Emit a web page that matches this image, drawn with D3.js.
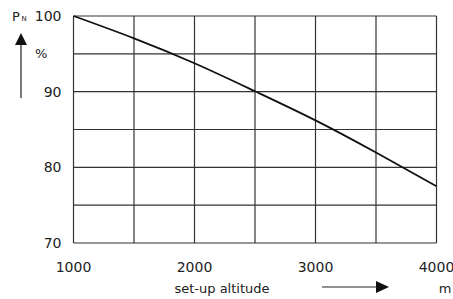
<!DOCTYPE html>
<html>
<head>
<meta charset="utf-8">
<script src="https://cdn.jsdelivr.net/npm/d3@7"></script>
<style>
  body { margin: 0; background: #fff; }
  svg text { font-family: "DejaVu Sans", sans-serif; fill: #222; }
</style>
</head>
<body>
<div id="graph"></div>
<script>
// ------DATA------
const altitudes = [1000, 1500, 2000, 2500, 3000, 3500, 4000]   // m
const power = [100, 97.05, 93.75, 90.05, 86.2, 81.95, 77.5]      // P_N in %
const xTicks = [1000, 2000, 3000, 4000]
const xGrid = [1000, 1500, 2000, 2500, 3000, 3500, 4000]
const yTicks = [70, 80, 90, 100]
const yGrid = [70, 75, 80, 85, 90, 95, 100]

// ------SETUP------
const width = 453, height = 299
const margin = { top: 16, right: 16.5, bottom: 56, left: 73.5 }
const gWidth = width - margin.left - margin.right
const gHeight = height - margin.top - margin.bottom

const svg = d3.select('#graph').append('svg')
  .attr('width', width).attr('height', height)

const graph = svg.append('g').attr('transform', `translate(${margin.left}, ${margin.top})`)

const xScale = d3.scaleLinear().domain([1000, 4000]).range([0, gWidth])
const yScale = d3.scaleLinear().domain([70, 100]).range([gHeight, 0])

// grid lines
graph.selectAll('.vgrid').data(xGrid).enter().append('line')
  .attr('x1', d => xScale(d)).attr('x2', d => xScale(d))
  .attr('y1', 0).attr('y2', gHeight)
  .attr('stroke', '#333').attr('stroke-width', 1.2)
graph.selectAll('.hgrid').data(yGrid).enter().append('line')
  .attr('y1', d => yScale(d)).attr('y2', d => yScale(d))
  .attr('x1', 0).attr('x2', gWidth)
  .attr('stroke', '#333').attr('stroke-width', 1.2)

// tick labels
graph.selectAll('.ylab').data(yTicks).enter().append('text')
  .attr('x', -12).attr('y', d => yScale(d)).attr('dy', '0.36em')
  .attr('text-anchor', 'end').style('font-size', '14px')
  .text(d => d)
graph.selectAll('.xlab').data(xTicks).enter().append('text')
  .attr('x', d => xScale(d)).attr('y', gHeight + 29)
  .attr('text-anchor', 'middle').style('font-size', '14px')
  .text(d => d)

// the curve (smooth through the read-off points)
const line = d3.line()
  .x((d, i) => xScale(altitudes[i]))
  .y(d => yScale(d))
  .curve(d3.curveNatural)
graph.append('path').datum(power)
  .attr('d', line)
  .attr('fill', 'none').attr('stroke', '#111').attr('stroke-width', 1.8)

// y axis label with arrow
svg.append('text').attr('x', 12).attr('y', 21).style('font-size', '13px').text('P')
svg.append('text').attr('x', 21.5).attr('y', 21).style('font-size', '7px').text('N')
svg.append('text').attr('x', 35).attr('y', 58).style('font-size', '13px').text('%')
svg.append('line').attr('x1', 21).attr('x2', 21).attr('y1', 42).attr('y2', 98)
  .attr('stroke', '#222').attr('stroke-width', 1.2)
svg.append('path').attr('d', 'M21,33 L15,45 L27,45 Z').attr('fill', '#111')

// x axis label with arrow
svg.append('text').attr('x', 222).attr('y', 293).attr('text-anchor', 'middle')
  .style('font-size', '13px').text('set-up altitude')
svg.append('line').attr('x1', 322).attr('x2', 378).attr('y1', 287).attr('y2', 287)
  .attr('stroke', '#222').attr('stroke-width', 1.2)
svg.append('path').attr('d', 'M389,287 L376,281 L376,293 Z').attr('fill', '#111')
svg.append('text').attr('x', 445).attr('y', 293).attr('text-anchor', 'middle')
  .style('font-size', '13px').text('m')
</script>
</body>
</html>
